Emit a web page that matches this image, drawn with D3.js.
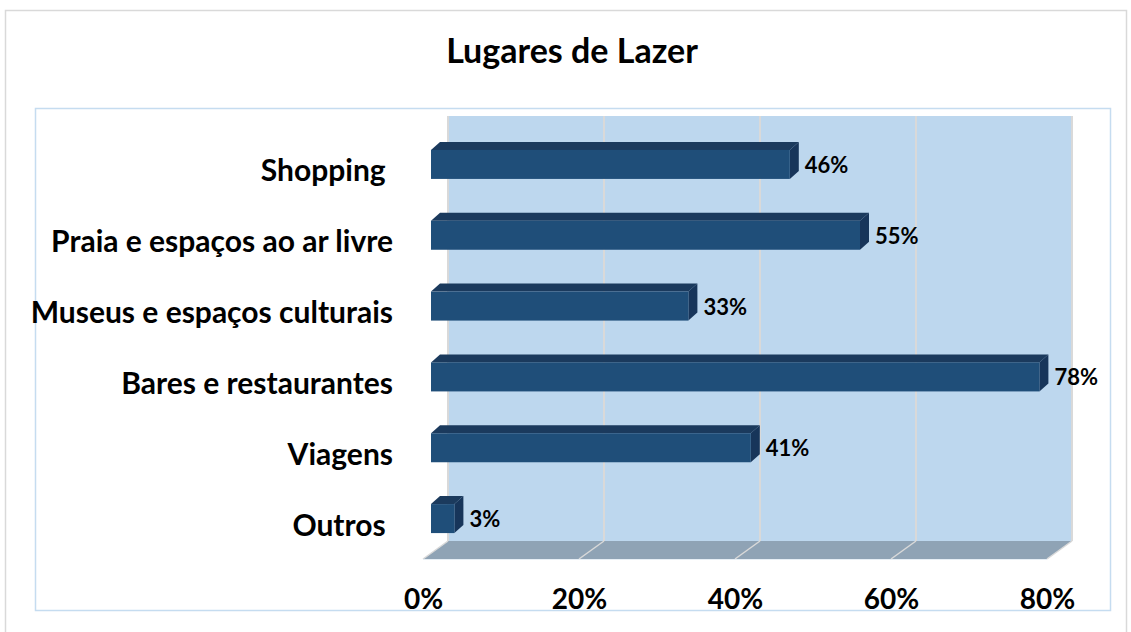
<!DOCTYPE html>
<html>
<head>
<meta charset="utf-8">
<script src="https://cdn.jsdelivr.net/npm/d3@7"></script>
<style>
  body { margin: 0; background: #fff; }
  svg text { font-family: Lato, "Open Sans", sans-serif; font-weight: 700; fill: #000; white-space: pre; }
</style>
</head>
<body>
<svg id="svg1"></svg>
<script>
// chart data
var title = 'Lugares de Lazer';
var categories = ['Shopping ', 'Praia e espaços ao ar livre', 'Museus e espaços culturais', 'Bares e restaurantes', 'Viagens', 'Outros '];
var values = [0.46, 0.55, 0.33, 0.78, 0.41, 0.03];
var tickValues = [0, 0.2, 0.4, 0.6, 0.8];

// layout variables
var width = 1131;
var height = 632;
var wall = {left: 448, right: 1072, top: 116, bottom: 541};
var depth = {dx: -25, dy: 18};   // floor front edge offset
var barDepth = {dx: 9, dy: -8};  // bar top / side faces
var barShift = -17;              // bar front face vs back wall
var barHeight = 29;

// colours
var wallFill = '#bdd7ee';
var floorFill = '#8fa3b5';
var gridColor = '#d9d9d9';
var barFront = '#1f4e79';
var barTop = '#1b3a5d';
var barSide = '#17355a';

var svg = d3.select('#svg1')
  .attr('width', width)
  .attr('height', height);

// scales
var x = d3.scaleLinear().domain([0, 0.8]).range([wall.left, wall.right]);
var xBar = d3.scaleLinear().domain([0, 0.8]).range([wall.left + barShift, wall.right + barShift]);
var xFloor = d3.scaleLinear().domain([0, 0.8]).range([wall.left + depth.dx, wall.right + depth.dx]);
var y = d3.scaleBand().domain(categories).range([wall.top, wall.bottom]);

function barCenter(d) { return y(d) + y.bandwidth() / 2 + 13; }

// outer chart border and plot area border
svg.append('rect')
  .attr('x', 5.5).attr('y', 10.5)
  .attr('width', 1121).attr('height', 640)
  .style('fill', 'none').style('stroke', gridColor).style('stroke-width', 1.5);
svg.append('rect')
  .attr('x', 35.5).attr('y', 108.5)
  .attr('width', 1075).attr('height', 502)
  .style('fill', 'none').style('stroke', '#c5dcf0').style('stroke-width', 1.5);

// title
svg.append('text')
  .attr('x', 572)
  .attr('y', 63)
  .attr('text-anchor', 'middle')
  .style('font-size', '34px')
  .text(title);

// back wall
svg.append('rect')
  .attr('x', wall.left).attr('y', wall.top)
  .attr('width', wall.right - wall.left).attr('height', wall.bottom - wall.top)
  .style('fill', wallFill);
svg.selectAll('line.grid')
  .data(tickValues)
  .enter()
  .append('line')
    .classed('grid', true)
    .attr('x1', function(d) { return x(d); })
    .attr('x2', function(d) { return x(d); })
    .attr('y1', wall.top)
    .attr('y2', wall.bottom)
    .style('stroke', gridColor)
    .style('stroke-width', 2);

// floor
svg.append('path')
  .attr('d', 'M' + x(0) + ',' + wall.bottom + 'L' + x(0.8) + ',' + wall.bottom +
    'L' + xFloor(0.8) + ',' + (wall.bottom + depth.dy) + 'L' + xFloor(0) + ',' + (wall.bottom + depth.dy) + 'Z')
  .style('fill', floorFill);
svg.selectAll('line.floorgrid')
  .data(tickValues)
  .enter()
  .append('line')
    .classed('floorgrid', true)
    .attr('x1', function(d) { return x(d); })
    .attr('x2', function(d) { return xFloor(d); })
    .attr('y1', wall.bottom)
    .attr('y2', wall.bottom + depth.dy)
    .style('stroke', gridColor)
    .style('stroke-width', 1.5);
svg.append('line')
  .attr('x1', xFloor(0)).attr('x2', xFloor(0.8))
  .attr('y1', wall.bottom + depth.dy + 0.5).attr('y2', wall.bottom + depth.dy + 0.5)
  .style('stroke', '#e6eef5').style('stroke-width', 1);

// bars
var bars = svg.selectAll('g.bar')
  .data(categories)
  .enter()
  .append('g')
    .classed('bar', true);

bars.append('path')
  .attr('d', function(d, i) {
    var x0 = xBar(0), x1 = xBar(values[i]), yt = barCenter(d) - barHeight / 2;
    return 'M' + x0 + ',' + yt + 'L' + (x0 + barDepth.dx) + ',' + (yt + barDepth.dy) +
      'L' + (x1 + barDepth.dx) + ',' + (yt + barDepth.dy) + 'L' + x1 + ',' + yt + 'Z';
  })
  .style('fill', barTop);
bars.append('path')
  .attr('d', function(d, i) {
    var x1 = xBar(values[i]), yt = barCenter(d) - barHeight / 2, yb = yt + barHeight;
    return 'M' + x1 + ',' + yt + 'L' + (x1 + barDepth.dx) + ',' + (yt + barDepth.dy) +
      'L' + (x1 + barDepth.dx) + ',' + (yb + barDepth.dy) + 'L' + x1 + ',' + yb + 'Z';
  })
  .style('fill', barSide);
bars.append('rect')
  .attr('x', xBar(0))
  .attr('y', function(d) { return barCenter(d) - barHeight / 2; })
  .attr('width', function(d, i) { return xBar(values[i]) - xBar(0); })
  .attr('height', barHeight)
  .style('fill', barFront);

// value labels
bars.append('text')
  .attr('x', function(d, i) { return xBar(values[i]) + barDepth.dx + 6; })
  .attr('y', function(d) { return barCenter(d) + 8.5; })
  .style('font-size', '22px')
  .text(function(d, i) { return d3.format('.0%')(values[i]); });

// category labels
svg.selectAll('text.cat')
  .data(categories)
  .enter()
  .append('text')
    .classed('cat', true)
    .attr('x', 393)
    .attr('y', function(d) { return barCenter(d) + 17; })
    .attr('text-anchor', 'end')
    .style('font-size', '30px')
    .text(function(d) { return d; });

// x axis labels along the front edge of the floor
var axis = svg.append('g')
  .attr('transform', 'translate(0,609)')
  .call(d3.axisBottom(xFloor).tickValues(tickValues).tickFormat(d3.format('.0%')).tickSize(0));
axis.select('.domain').remove();
axis.selectAll('text')
  .attr('y', 0)
  .attr('dy', 0)
  .style('font-family', 'Lato, sans-serif')
  .style('font-weight', 700)
  .style('font-size', '28px')
  .style('fill', '#000');
</script>
</body>
</html>
